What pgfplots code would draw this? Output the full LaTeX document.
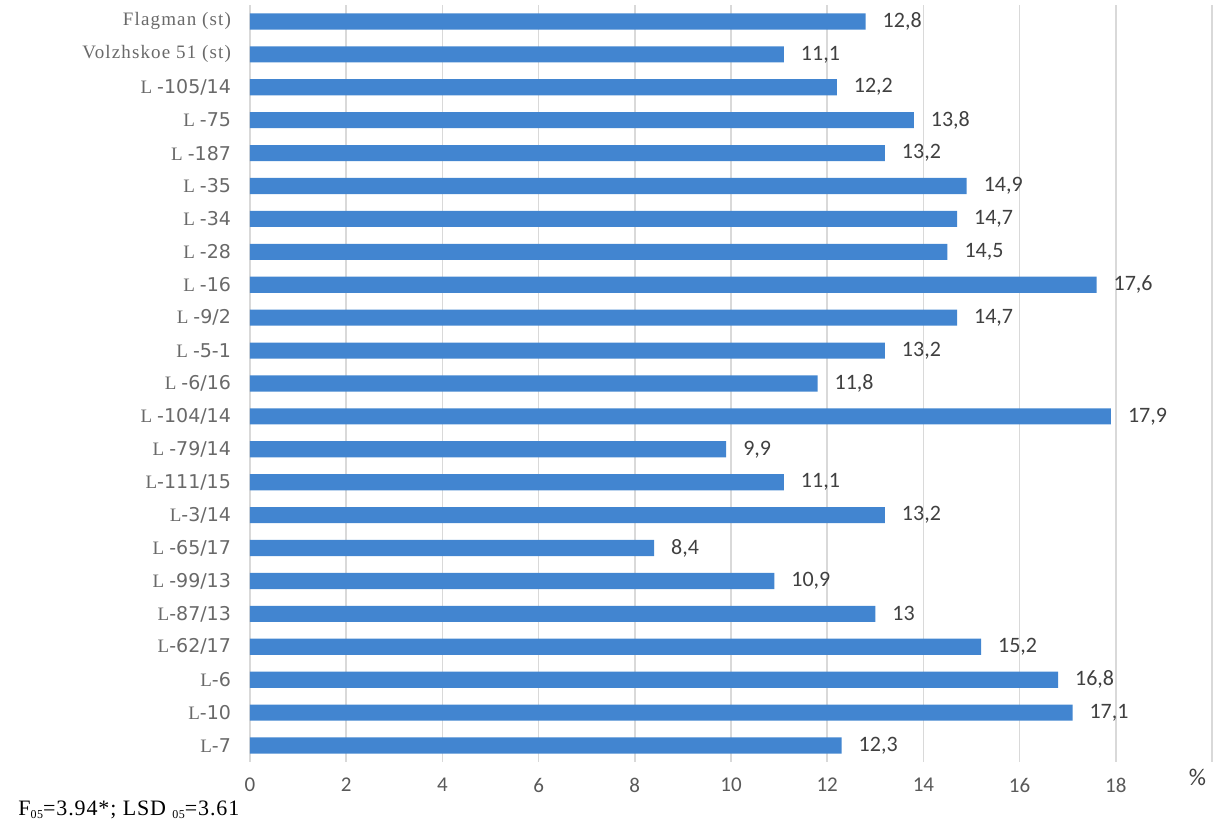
\documentclass[border=0pt]{standalone}
\usepackage{pgfplots}
\usepackage{pgfplotstable}
\pgfplotsset{compat=1.18}
\usepackage{fontspec}
\setmainfont{Carlito}
\newfontfamily\lserif[LetterSpace=6]{Liberation Serif}
\newfontfamily\fserif[LetterSpace=4]{Liberation Serif}
\newfontfamily\lsans{DejaVu Sans}
\definecolor{barblue}{RGB}{66,133,208}
\definecolor{tickgray}{RGB}{89,89,89}
\definecolor{labgray}{RGB}{105,105,105}
\definecolor{valgray}{RGB}{64,64,64}
\definecolor{gridgray}{RGB}{217,217,217}
\newcommand{\Ls}[1]{{\lserif L}\hspace{2.5pt}{\lsans #1}}
\newcommand{\Ln}[1]{{\lserif L}{\lsans #1}}
\pgfplotstableread{
idx val
0 12.3
1 17.1
2 16.8
3 15.2
4 13
5 10.9
6 8.4
7 13.2
8 11.1
9 9.9
10 17.9
11 11.8
12 13.2
13 14.7
14 17.6
15 14.5
16 14.7
17 14.9
18 13.2
19 13.8
20 12.2
21 11.1
22 12.8
}\datatable
\begin{document}
\begin{tikzpicture}
\path[use as bounding box] (-125pt,-30pt) rectangle (488.5pt,381pt);
\begin{axis}[
  scale only axis,
  width=481pt, height=378.5pt,
  xmin=0, xmax=20,
  ymin=-0.5, ymax=22.5,
  axis line style={draw=none},
  xtick={0,2,...,20},
  xticklabels={0,2,4,6,8,10,12,14,16,18,{}},
  ytick={0,...,22},
  yticklabels={
    \Ln{-7},\Ln{-10},\Ln{-6},\Ln{-62/17},\Ln{-87/13},\Ls{-99/13},\Ls{-65/17},
    \Ln{-3/14},\Ln{-111/15},\Ls{-79/14},\Ls{-104/14},\Ls{-6/16},\Ls{-5-1},
    \Ls{-9/2},\Ls{-16},\Ls{-28},\Ls{-34},\Ls{-35},\Ls{-187},\Ls{-75},\Ls{-105/14},
    {\lserif Volzhskoe 51 (st)},{\lserif Flagman (st)}},
  major tick length=0pt,
  xmajorgrids,
  grid style={gridgray, line width=0.8pt},
  xticklabel style={font=\fontsize{10.5}{12}\selectfont, text=tickgray, yshift=-4.5pt},
  yticklabel style={font=\fontsize{9.5}{11}\selectfont, text=labgray, xshift=-6pt},
  clip=false,
]
\addplot[xbar, fill=barblue, draw=none, bar width=0.49,
  point meta=x,
  nodes near coords={\pgfmathprintnumber[assume math mode=true,use comma,fixed,precision=1]{\pgfplotspointmeta}},
  nodes near coords style={font=\fontsize{11}{13}\selectfont, text=valgray, anchor=west, xshift=5pt},
] table[x=val, y=idx] {\datatable};
\node[font=\fontsize{12}{14}\selectfont, text=valgray, anchor=north] at (axis cs:19.7,-0.5) {\%};
\end{axis}
\node[anchor=base west, font=\fontsize{11}{13}\selectfont, inner sep=0pt] at (-116pt,-27pt)
  {\fserif F\raisebox{-1.5pt}{\fontsize{6}{7}\selectfont 05}=3.94*; LSD \raisebox{-1.5pt}{\fontsize{6}{7}\selectfont 05}=3.61};
\end{tikzpicture}
\end{document}
